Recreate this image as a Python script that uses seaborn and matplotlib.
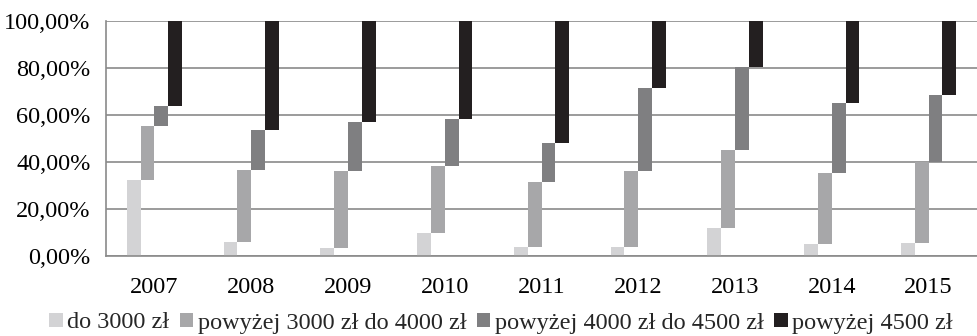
import pandas as pd
import matplotlib.pyplot as plt
import seaborn as sns

# Data (shares per income band)
years = ["2007", "2008", "2009", "2010", "2011", "2012", "2013", "2014", "2015"]
series = ["do 3000 zł", "powyżej 3000 zł do 4000 zł",
          "powyżej 4000 zł do 4500 zł", "powyżej 4500 zł"]
do_3000 = [32.3, 6.0, 3.5, 9.8, 4.0, 3.7, 11.8, 5.1, 5.7]
od_3000_do_4000 = [23.1, 30.6, 32.8, 28.4, 27.6, 32.6, 33.2, 30.3, 34.2]
od_4000_do_4500 = [8.5, 17.0, 20.6, 20.0, 16.6, 35.1, 35.6, 29.6, 28.7]
powyzej_4500 = [36.1, 46.4, 43.1, 41.8, 51.8, 28.6, 19.4, 35.0, 31.4]

colors = ["#d3d3d5", "#a7a7a9", "#7f7f81", "#231f20"]

values = [do_3000, od_3000_do_4000, od_4000_do_4500, powyzej_4500]

rows = []
for s, vals in zip(series, values):
    for y, v in zip(years, vals):
        rows.append({"rok": y, "grupa": s, "udzial": v})
df = pd.DataFrame(rows)

# running bottom of each bar (cumulative share of previous bands)
bottoms = []
acc = [0.0] * len(years)
for vals in values:
    bottoms.append(list(acc))
    acc = [a + v for a, v in zip(acc, vals)]

sns.set_style("white")
plt.rcParams["font.family"] = ["Liberation Serif", "DejaVu Serif"]

fig = plt.figure(figsize=(9.77, 3.36), dpi=100)
ax = fig.add_axes([0.1085, 0.238, 0.8915, 0.6995])

sns.barplot(data=df, x="rok", y="udzial", hue="grupa", order=years,
            hue_order=series, palette=colors, width=0.57, gap=0,
            saturation=1, linewidth=0, ax=ax, zorder=2)

# turn the dodged bars into floating bars
for cont, bots, vals in zip(ax.containers, bottoms, values):
    for patch, b, v in zip(cont.patches, bots, vals):
        patch.set_y(b)
        patch.set_height(v)

ax.set_xlim(-0.5, len(years) - 0.5)
ax.set_ylim(0, 100)
ax.set_yticks([0, 20, 40, 60, 80, 100])
ax.set_yticklabels(["0,00%", "20,00%", "40,00%", "60,00%", "80,00%", "100,00%"])
ax.yaxis.grid(True, color="#8a8a8a", linewidth=1.2, zorder=0)
ax.set_axisbelow(True)
ax.set_xlabel("")
ax.set_ylabel("")
ax.tick_params(axis="both", length=0, labelsize=17.5, colors="black")
ax.tick_params(axis="x", pad=15)
ax.tick_params(axis="y", pad=11)

for side in ["top", "right"]:
    ax.spines[side].set_visible(False)
for side in ["left", "bottom"]:
    ax.spines[side].set_color("#8a8a8a")
    ax.spines[side].set_linewidth(1.2)

ax.legend(loc="center", bbox_to_anchor=(501 / 977, 13 / 336),
          bbox_transform=fig.transFigure, ncol=4, frameon=False,
          fontsize=17.5, handlelength=0.55, handleheight=0.55,
          handletextpad=0.17, columnspacing=0.45, borderaxespad=0,
          borderpad=0)

fig.savefig("out.png", dpi=100)
